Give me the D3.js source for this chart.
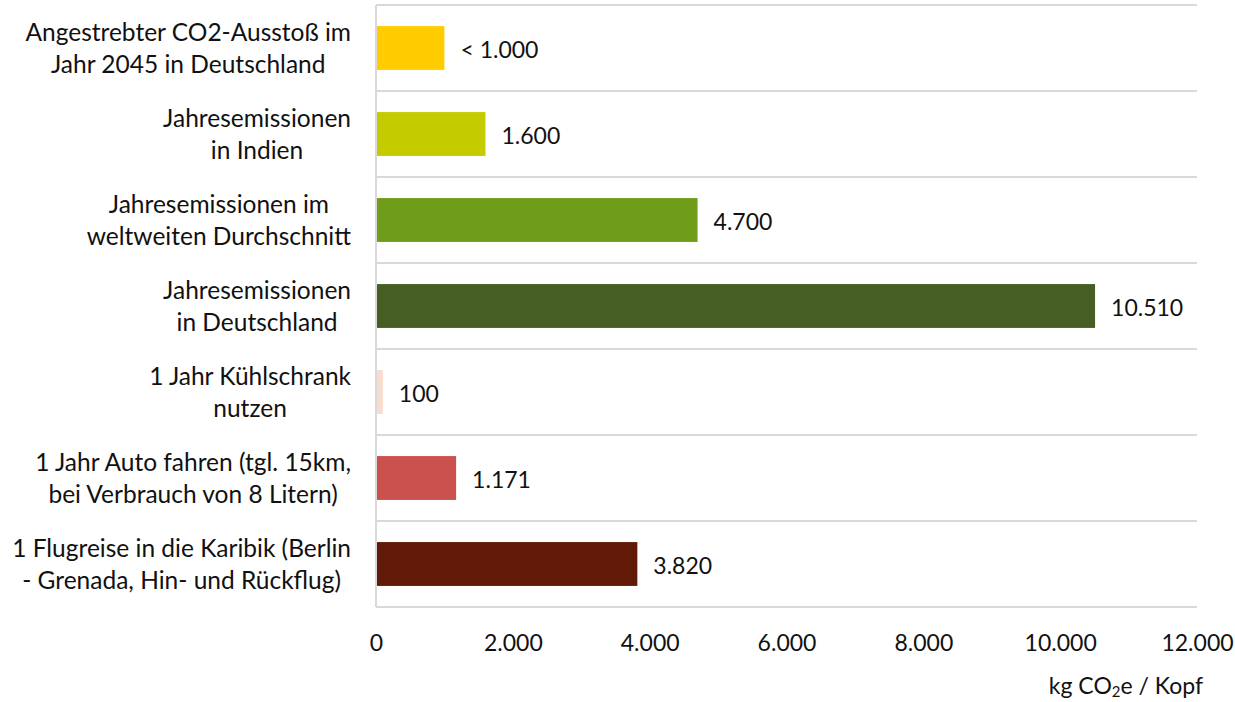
<!DOCTYPE html>
<html>
<head>
<meta charset="utf-8">
<script src="https://cdn.jsdelivr.net/npm/d3@7"></script>
<style>
  html, body { margin: 0; padding: 0; background: #fff; }
  svg { display: block; }
  text { font-family: Lato, "Noto Sans", sans-serif; fill: #111; }
</style>
</head>
<body>
<svg id="chart" width="1235" height="702"></svg>
<script>
// Category labels, one array entry per wrapped line
const categories = [
  ["Angestrebter CO2-Ausstoß im", "Jahr 2045 in Deutschland"],
  ["Jahresemissionen", "in Indien"],
  ["Jahresemissionen im", "weltweiten Durchschnitt"],
  ["Jahresemissionen", "in Deutschland"],
  ["1 Jahr Kühlschrank", "nutzen"],
  ["1 Jahr Auto fahren (tgl. 15km,", "bei Verbrauch von 8 Litern)"],
  ["1 Flugreise in die Karibik (Berlin", "- Grenada, Hin- und Rückflug)"]
];
const values = [1000, 1600, 4700, 10510, 100, 1171, 3820];
const valueLabels = ["< 1.000", "1.600", "4.700", "10.510", "100", "1.171", "3.820"];
const barColors = ["#FFCC00", "#C4CC00", "#6F9D1A", "#465E24", "#F8DCCE", "#CB514F", "#621A08"];
const tickValues = [0, 2000, 4000, 6000, 8000, 10000, 12000];
const tickLabels = ["0", "2.000", "4.000", "6.000", "8.000", "10.000", "12.000"];

const FONT = 23;       // numbers
const CAT_FONT = 24.5; // category labels
const margin = { left: 376, right: 38, top: 5, bottom: 95 };
const W = 1235, H = 702;
const svg = d3.select("#chart");

const x = d3.scaleLinear().domain([0, 12000]).range([margin.left, W - margin.right]);
const y = d3.scaleBand().domain(d3.range(values.length))
  .range([margin.top, H - margin.bottom]).paddingInner(0.49).paddingOuter(0.245);

// Horizontal separators between categories
const step = y.step();
const sepYs = d3.range(values.length + 1).map(i => margin.top + i * step);
svg.append("g").selectAll("line").data(sepYs).join("line")
  .attr("x1", x(0)).attr("x2", x(12000))
  .attr("y1", d => d).attr("y2", d => d)
  .attr("stroke", "#d9d9d9").attr("stroke-width", 2);

// Bars
svg.append("g").selectAll("rect").data(values).join("rect")
  .attr("x", x(0)).attr("y", (d, i) => y(i))
  .attr("width", d => x(d) - x(0)).attr("height", y.bandwidth())
  .attr("fill", (d, i) => barColors[i]);

// Category axis line
svg.append("line")
  .attr("x1", x(0)).attr("x2", x(0))
  .attr("y1", margin.top).attr("y2", H - margin.bottom)
  .attr("stroke", "#d9d9d9").attr("stroke-width", 2);

// Value labels at bar ends
svg.append("g").selectAll("text").data(values).join("text")
  .attr("x", d => x(d) + 16)
  .attr("y", (d, i) => y(i) + y.bandwidth() / 2 + 2)
  .attr("dy", "0.35em")
  .style("font-size", FONT + "px")
  .text((d, i) => valueLabels[i]);

// X axis tick labels
const xAxis = d3.axisBottom(x).tickValues(tickValues)
  .tickFormat((d, i) => tickLabels[i]).tickSize(0).tickPadding(0);
const gx = svg.append("g").attr("transform", `translate(0,${H - margin.bottom})`).call(xAxis);
gx.select(".domain").remove();
gx.selectAll("text")
  .attr("y", 36).attr("dy", "0.35em")
  .style("font-size", FONT + "px").style("font-family", "Lato, 'Noto Sans', sans-serif").attr("fill", "#111");

// Axis title
const title = svg.append("text")
  .attr("x", 1203).attr("y", 694)
  .attr("text-anchor", "end")
  .style("font-size", FONT + "px");
title.append("tspan").text("kg CO");
title.append("tspan").text("2").style("font-size", (FONT * 0.65) + "px").attr("dy", 3);
title.append("tspan").text("e / Kopf").attr("dy", -3);

// Category labels: each block right-aligned, lines centred within the block
const labelRight = 351;
const lineH = 32;
const gl = svg.append("g");
categories.forEach((lines, i) => {
  const cy = y(i) + y.bandwidth() / 2;
  const t = gl.append("text").style("font-size", CAT_FONT + "px").attr("text-anchor", "middle");
  const spans = lines.map((ln, j) => t.append("tspan")
    .attr("y", cy + (j - (lines.length - 1) / 2) * lineH)
    .attr("dy", "0.35em").text(ln));
  const maxW = d3.max(spans, s => s.node().getComputedTextLength());
  spans.forEach(s => s.attr("x", labelRight - maxW / 2));
});
</script>
</body>
</html>
